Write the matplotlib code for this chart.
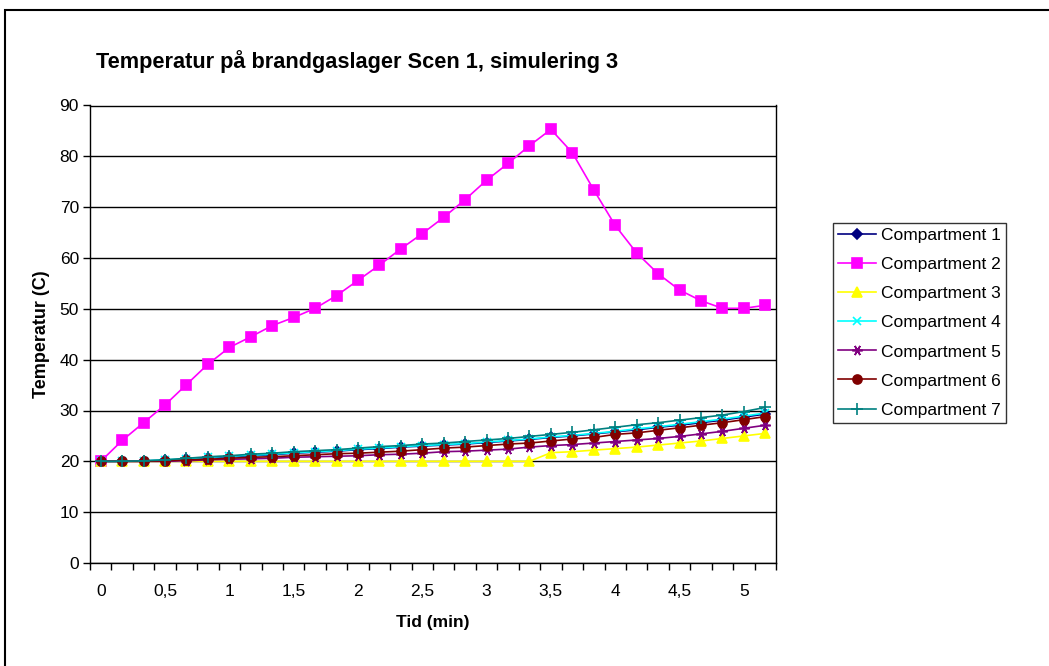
import numpy as np
import matplotlib
matplotlib.use('Agg')
import matplotlib.pyplot as plt
from matplotlib.patches import Rectangle

plt.rcParams['font.family'] = ['Liberation Sans', 'DejaVu Sans']

# Tid i steg om 10 s (32 mätpunkter), etiketter var 3:e punkt
tid_labels = ['0', '0,5', '1', '1,5', '2', '2,5', '3', '3,5', '4', '4,5', '5']

comp1 = [20.0, 20.0, 20.1, 20.2, 20.4, 20.7, 20.9, 21.1, 21.3, 21.6, 21.8, 22.0, 22.3, 22.5, 22.8, 23.0,
         23.2, 23.4, 23.7, 24.0, 24.3, 24.7, 25.0, 25.4, 25.8, 26.2, 26.7, 27.1, 27.6, 28.1, 28.7, 29.3]
comp2 = [20.0, 24.1, 27.6, 31.1, 35.1, 39.1, 42.4, 44.5, 46.7, 48.3, 50.1, 52.6, 55.6, 58.6, 61.8, 64.8,
         68.0, 71.5, 75.3, 78.6, 82.1, 85.3, 80.7, 73.4, 66.4, 61.0, 56.9, 53.7, 51.6, 50.1, 50.1, 50.7]
comp3 = [20.0, 20.0, 20.0, 20.0, 20.0, 20.0, 20.0, 20.0, 20.0, 20.0, 20.0, 20.0, 20.0, 20.0, 20.0, 20.0,
         20.0, 20.0, 20.0, 20.0, 20.0, 21.7, 21.9, 22.2, 22.5, 22.8, 23.2, 23.6, 24.0, 24.5, 25.0, 25.5]
comp4 = [20.0, 20.0, 20.1, 20.3, 20.5, 20.8, 21.0, 21.2, 21.4, 21.7, 21.9, 22.1, 22.4, 22.6, 22.9, 23.1,
         23.3, 23.5, 23.8, 24.1, 24.4, 24.8, 25.1, 25.5, 25.9, 26.4, 26.8, 27.3, 27.8, 28.3, 28.9, 29.5]
comp5 = [20.0, 20.0, 20.0, 20.0, 20.1, 20.3, 20.4, 20.5, 20.6, 20.8, 20.9, 21.0, 21.1, 21.3, 21.4, 21.6,
         21.9, 22.0, 22.2, 22.4, 22.8, 23.1, 23.3, 23.6, 23.9, 24.2, 24.5, 24.9, 25.4, 25.9, 26.5, 27.1]
comp6 = [20.0, 20.0, 20.0, 20.1, 20.3, 20.4, 20.6, 20.8, 20.9, 21.1, 21.3, 21.5, 21.6, 21.8, 22.0, 22.3,
         22.6, 22.8, 23.1, 23.4, 23.6, 24.0, 24.4, 24.7, 25.3, 25.6, 26.1, 26.6, 27.1, 27.6, 28.2, 28.8]
comp7 = [20.0, 20.0, 20.1, 20.3, 20.6, 20.9, 21.1, 21.4, 21.6, 21.9, 22.1, 22.3, 22.6, 22.9, 23.1, 23.4,
         23.6, 23.9, 24.2, 24.5, 24.9, 25.3, 25.7, 26.2, 26.7, 27.2, 27.6, 28.1, 28.6, 29.1, 29.8, 30.6]

serier = [
    ('Compartment 1', comp1, '#000080', 'D', 5, '#000080'),
    ('Compartment 2', comp2, '#FF00FF', 's', 7, '#FF00FF'),
    ('Compartment 3', comp3, '#FFFF00', '^', 7.5, '#FFFF00'),
    ('Compartment 4', comp4, '#00FFFF', 'x', 6, '#00FFFF'),
    ('Compartment 5', comp5, '#800080', (6, 2, 90), 7.5, '#800080'),
    ('Compartment 6', comp6, '#800000', 'o', 6.5, '#800000'),
    ('Compartment 7', comp7, '#008080', '+', 8, '#008080'),
]

fs = 12.5

fig = plt.figure(figsize=(10.49, 6.66), dpi=100)
ax = fig.add_axes([90 / 1049, 1 - 563 / 666, 686 / 1049, 457.5 / 666])

x = np.arange(len(comp2))
for namn, y, farg, mark, ms, mfarg in serier:
    ax.plot(x, y, color=farg, lw=1.2, marker=mark, markersize=ms,
            markerfacecolor=mfarg, markeredgecolor=mfarg, markeredgewidth=1.2, label=namn)

ax.set_xlim(-0.5, len(x) - 0.5)
ax.set_ylim(0, 90)
ax.set_yticks(np.arange(0, 91, 10))
ax.yaxis.grid(True, color='black', lw=1)
ax.set_axisbelow(True)

# kategoriaxel: streck mellan punkterna, etiketter var 3:e punkt
ax.set_xticks(np.arange(0, len(x), 3))
ax.set_xticklabels(tid_labels)
ax.set_xticks(np.arange(-0.5, len(x), 1), minor=True)
ax.tick_params(axis='x', which='major', length=0, pad=15, labelsize=fs)
ax.tick_params(axis='x', which='minor', length=5, width=1, direction='out')
ax.tick_params(axis='y', length=5, width=1, direction='out', labelsize=fs, pad=3)

for s in ax.spines.values():
    s.set_color('black')
    s.set_linewidth(1)

ax.set_xlabel('Tid (min)', fontsize=fs, fontweight='bold', labelpad=12)
ax.set_ylabel('Temperatur (C)', fontsize=13, fontweight='bold', labelpad=7)

fig.text(357 / 1049, 1 - 62 / 666, 'Temperatur på brandgaslager Scen 1, simulering 3',
         ha='center', va='center', fontsize=15.7, fontweight='bold')

leg = ax.legend(loc='upper left', bbox_to_anchor=(833 / 1049, 1 - 223 / 666),
                bbox_transform=fig.transFigure, frameon=True, fancybox=False,
                fontsize=fs, handlelength=2.2, handletextpad=0.25,
                labelspacing=0.8, borderpad=0.3, borderaxespad=0)
leg.get_frame().set_edgecolor('black')
leg.get_frame().set_linewidth(1)

# ram runt hela diagramytan
fig.patches.append(Rectangle((5 / 1049, -0.1), 1.2, 1.1 - 10 / 666, transform=fig.transFigure,
                             fill=False, edgecolor='black', lw=1.5))

fig.savefig('out.png', dpi=100)
